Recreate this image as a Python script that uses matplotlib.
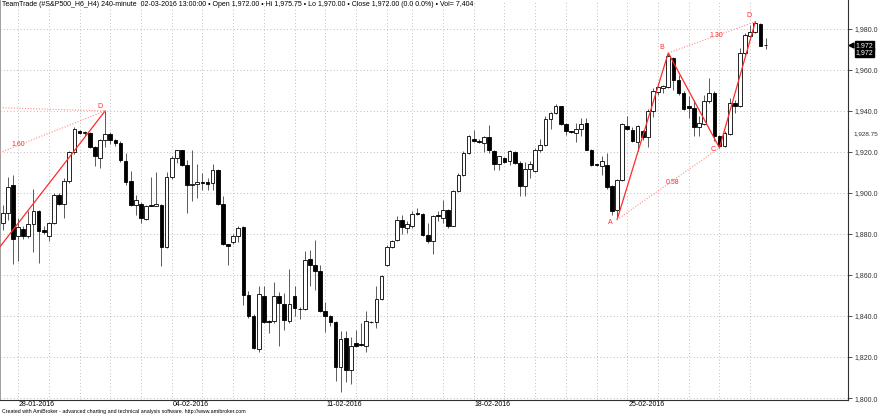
import numpy as np
import matplotlib.pyplot as plt

# 240-minute bars of #S&P500_H6_H4
opens = [1885.5, 1890, 1903.7, 1879, 1882.6, 1879, 1885, 1891, 1882, 1879,
         1885.5, 1899, 1894.5, 1906, 1920, 1930, 1929.1, 1929.3, 1922.6, 1917,
         1926, 1928.6, 1926, 1924.2, 1915.6, 1905.7, 1894.3, 1894.8, 1887.5, 1893.8,
         1893.8, 1894.3, 1873.7, 1907.8, 1917, 1920.8, 1913.8, 1904, 1904.6, 1905.4,
         1905.4, 1905, 1911.4, 1894.8, 1875.3, 1876, 1879.2, 1883.4, 1850.4, 1839.8,
         1823.9, 1850, 1837.4, 1837.4, 1849.9, 1846, 1837.4, 1850, 1843.4, 1843.4,
         1867.8, 1865, 1861.8, 1842.3, 1839.8, 1837.2, 1815.1, 1829.3, 1813.5, 1826.8,
         1826, 1825.2, 1837, 1836.9, 1848.3, 1865, 1873.7, 1876.9, 1886.7, 1882.9,
         1884, 1890.2, 1889.9, 1879.3, 1876.4, 1888.9, 1887.8, 1891.5, 1884, 1900.8,
         1909, 1919.5, 1926.3, 1925, 1924.4, 1927.2, 1920.7, 1914.3, 1917, 1915.4,
         1920, 1914.6, 1903.3, 1911.7, 1910.9, 1921.1, 1923.6, 1936.1, 1939, 1942.3,
         1933.7, 1929.8, 1929.3, 1931.2, 1934.1, 1921.1, 1913.8, 1913.3, 1913.8, 1903.6,
         1891.5, 1906.5, 1932.5, 1930.9, 1924.7, 1930.1, 1927.2, 1939.8, 1949.1, 1951.2,
         1951.7, 1965.9, 1955.3, 1948.8, 1942.6, 1941.5, 1932.2, 1933.8, 1944.7, 1948.8,
         1928, 1922.8, 1928.9, 1943.9, 1942.3, 1968.3, 1976.4, 1978.4, 1982.6, 1972]
highs = [1894, 1908, 1909, 1888, 1884, 1891, 1902, 1891.8, 1884, 1886,
         1900, 1900, 1907.5, 1920.5, 1932, 1930.5, 1930.2, 1929.8, 1923, 1926.5,
         1940, 1929.8, 1926.5, 1925.4, 1919.7, 1910.6, 1899, 1895.4, 1894.3, 1908,
         1910, 1894.8, 1910, 1917.9, 1921, 1920.8, 1916, 1921, 1914, 1909.7,
         1907.3, 1914, 1911.7, 1898.4, 1875.3, 1880.2, 1883.7, 1884, 1852, 1841,
         1854.5, 1854.5, 1838.2, 1856.4, 1851.5, 1851, 1863, 1854.8, 1844.4, 1871.5,
         1872.4, 1877.2, 1865, 1846.7, 1840.6, 1837.4, 1832.5, 1832.5, 1830, 1833.3,
         1836.6, 1842.3, 1837.6, 1854.8, 1860.2, 1874.5, 1877.2, 1888.6, 1889.4, 1886.2,
         1891, 1892.7, 1890.2, 1885.4, 1889.4, 1891, 1896.4, 1892.2, 1901.6, 1909.8,
         1920.3, 1928.1, 1930.9, 1926.5, 1927.6, 1933.3, 1921.1, 1918.2, 1917.4, 1921.1,
         1920.3, 1915.4, 1915, 1915.4, 1921.9, 1926.3, 1937.4, 1939.3, 1943.3, 1942.6,
         1934.1, 1930.3, 1934.1, 1936.6, 1936.6, 1921.5, 1914.3, 1917.9, 1919.5, 1904.1,
         1906.8, 1934.1, 1937.7, 1932.2, 1933.3, 1930.9, 1941, 1951.2, 1952.4, 1952.8,
         1968.3, 1966.3, 1957.7, 1949.6, 1947.2, 1945.5, 1937.4, 1948, 1956.1, 1949.6,
         1928.5, 1930.1, 1946.3, 1945.2, 1970.7, 1978, 1982.1, 1983.7, 1982.9, 1975.75]
lows = [1882, 1887, 1865.2, 1867, 1877.4, 1878, 1871, 1866, 1880, 1876.6,
        1884.7, 1894, 1888, 1905, 1919, 1928.8, 1927.8, 1922, 1913, 1912,
        1922.6, 1924, 1923, 1915, 1904, 1893.5, 1889.4, 1885.4, 1887, 1893.5,
        1893.5, 1864.5, 1873.2, 1906.8, 1914.6, 1913.3, 1890, 1896, 1897.6, 1901.6,
        1901.6, 1901.6, 1894.3, 1874.8, 1865, 1875, 1876, 1845.5, 1839, 1824,
        1822.3, 1836.6, 1831.7, 1836.6, 1825.5, 1833.3, 1836.6, 1840.2, 1838.5, 1842.8,
        1854.8, 1852.8, 1841.8, 1832, 1835, 1808.1, 1802.8, 1807.6, 1806.9, 1825,
        1825.5, 1822.6, 1836.4, 1834, 1847.6, 1864.5, 1873.2, 1876.4, 1880.2, 1880.5,
        1882.9, 1889.4, 1878.9, 1875.6, 1870.4, 1886.2, 1885.4, 1882.9, 1883.7, 1900.3,
        1908.5, 1919.2, 1924.7, 1924.4, 1919.8, 1919.5, 1911.4, 1911, 1914.7, 1913.8,
        1914.3, 1898.7, 1898.7, 1907.3, 1910.1, 1919.8, 1923.1, 1931.2, 1938.7, 1933.3,
        1928.5, 1929.3, 1924.7, 1927.6, 1920.8, 1913.3, 1913.3, 1909, 1902, 1889.5,
        1887.2, 1906, 1930.9, 1924.7, 1920.3, 1926, 1922.4, 1937.1, 1948, 1948.8,
        1951.2, 1950.4, 1948, 1940.3, 1936.6, 1927.6, 1927.6, 1933.3, 1943.9, 1925.2,
        1922, 1922.4, 1928.5, 1939, 1942, 1967.5, 1976.1, 1978, 1971.5, 1970]
closes = [1890, 1903, 1877.7, 1883.4, 1879, 1885, 1891, 1881.5, 1881, 1885.5,
          1899, 1894.5, 1906, 1920, 1931, 1929.2, 1929.5, 1922.6, 1918, 1926,
          1928.6, 1926, 1924.2, 1916, 1905.5, 1894.3, 1896.4, 1887.8, 1893.8, 1893.6,
          1894.8, 1873.7, 1907.8, 1917, 1920.8, 1913.8, 1904, 1904.6, 1905.4, 1905,
          1904.6, 1911.4, 1894.8, 1875.3, 1874, 1879.2, 1883, 1850.4, 1839.8, 1824.4,
          1850.9, 1837, 1837.1, 1849.9, 1846.3, 1837.9, 1846, 1843.9, 1843.2, 1867.5,
          1865, 1861.8, 1842.3, 1840.2, 1836.9, 1815.1, 1828.9, 1813.5, 1825.5, 1825.5,
          1825.9, 1837.4, 1837.2, 1848.3, 1859.7, 1873.7, 1876.4, 1887, 1883.4, 1884.9,
          1889.9, 1889.8, 1879.7, 1876.4, 1888.6, 1888.8, 1891.5, 1883.7, 1900.8, 1909,
          1919.5, 1927.6, 1925.5, 1924.9, 1927.2, 1920.8, 1914.3, 1917.9, 1915, 1920.3,
          1914.6, 1903.6, 1911.7, 1914.3, 1921.1, 1923.6, 1936.1, 1939, 1942.6, 1933.7,
          1930.1, 1929.7, 1931.2, 1933.7, 1921.1, 1913.8, 1913.7, 1915.4, 1902.9, 1891.1,
          1906.5, 1933.7, 1931.2, 1925.2, 1932.5, 1927.2, 1939.8, 1949.9, 1951.7, 1952.2,
          1966.7, 1955.3, 1948.8, 1941, 1941.5, 1932.2, 1934.1, 1944.7, 1948.8, 1927.6,
          1923.1, 1929.3, 1943.9, 1942.3, 1968.3, 1977.2, 1978.4, 1982.9, 1971.9, 1972]

# first bar of each trading day, and the dates printed on the axis
day_starts = [3, 9, 15, 21, 27, 33, 39, 45, 51, 57, 63, 69, 75, 80, 86, 92,
              98, 104, 110, 116, 122, 128, 134, 140, 146]
label_bars = [3, 33, 63, 92, 122]
date_labels = ["28-01-2016", "04-02-2016", "11-02-2016", "18-02-2016", "25-02-2016"]

price_ticks = [1800, 1820, 1840, 1860, 1880, 1900, 1920, 1940, 1960, 1980]

# AB=CD pattern points (bar index, price)
left_edge = -0.53
left_d = (20, 1940.0)
left_start = (left_edge, 1873.8)
left_dots = [(left_edge, 1941.6), (left_edge, 1919.7)]
abcd_bars = [120, 130, 140, 147]
abcd_prices = [1887.0, 1968.3, 1922.0, 1983.5]
abcd_names = ["A", "B", "C", "D"]

plt.rcParams['font.family'] = ['Liberation Sans', 'DejaVu Sans']

fig = plt.figure(figsize=(8.8, 4.15), dpi=100)
ax = fig.add_axes([0, 15.3 / 415, 848 / 880, 399.7 / 415])

o = np.array(opens)
h = np.array(highs)
l = np.array(lows)
c = np.array(closes)
x = np.arange(len(c))
up = c >= o

# grid
grid_style = dict(color='#a8a8a8', linestyle=(0, (1, 3)), linewidth=0.6, zorder=1)
for v in price_ticks:
    ax.axhline(v, **grid_style)
for d in day_starts:
    ax.axvline(d, **grid_style)

# candles
ax.vlines(x, l, h, color='#5a5a5a', linewidth=0.7, zorder=2)
body_low = np.minimum(o, c)
body_h = np.maximum(np.abs(c - o), 0.3)
ax.bar(x[up], body_h[up], bottom=body_low[up], width=0.72, color='white',
       edgecolor='black', linewidth=0.6, zorder=3)
ax.bar(x[~up], body_h[~up], bottom=body_low[~up], width=0.72, color='black',
       edgecolor='black', linewidth=0.6, zorder=3)

# pattern lines
red = '#ff2a2a'
light_red = '#ff8c8c'
ax.plot([left_start[0], left_d[0]], [left_start[1], left_d[1]], color=red, lw=0.9, zorder=4)
for p in left_dots:
    ax.plot([p[0], left_d[0]], [p[1], left_d[1]], color=light_red, lw=0.8,
            linestyle=(0, (1, 1.5)), zorder=4)
ax.text(left_d[0] - 1.1, left_d[1] + 2.3, "D", color=red, fontsize=5, ha='center', va='center')
ax.text(3.0, 1923.4, "1.60", color=red, fontsize=5, ha='center', va='center')

ax.plot(abcd_bars, abcd_prices, color=red, lw=0.9, zorder=4)
ax.plot([abcd_bars[0], abcd_bars[2]], [abcd_prices[0], abcd_prices[2]], color=light_red,
        lw=0.8, linestyle=(0, (1, 1.5)), zorder=4)
ax.plot([abcd_bars[1], abcd_bars[3]], [abcd_prices[1], abcd_prices[3]], color=light_red,
        lw=0.8, linestyle=(0, (1, 1.5)), zorder=4)
label_offsets = [(-1.3, -1.6), (-1.2, 2.4), (-1.3, -1.0), (-1.2, 2.8)]
for b, p, n, off in zip(abcd_bars, abcd_prices, abcd_names, label_offsets):
    ax.text(b + off[0], p + off[1], n, color=red, fontsize=5, ha='center', va='center')
ax.text(130.9, 1904.9, "0.58", color=red, fontsize=5, ha='center', va='center')
ax.text(139.3, 1977.0, "1.30", color=red, fontsize=5, ha='center', va='center')

ax.set_xlim(left_edge, 165.1)
ax.set_ylim(1799.2, 1994.1)

# axes look
ax.spines['top'].set_visible(False)
ax.spines['left'].set_color('#909090')
ax.spines['left'].set_linewidth(0.6)
for s in ['right', 'bottom']:
    ax.spines[s].set_color('#303030')
    ax.spines[s].set_linewidth(0.8)
ax.set_xticks([])
ax.yaxis.tick_right()
ax.set_yticks(price_ticks)
ax.set_yticklabels([f"{v:,.1f}" for v in price_ticks])
ax.tick_params(axis='y', length=3, width=0.6, labelsize=5, pad=2, colors='#303030')

for b, t in zip(label_bars, date_labels):
    ax.text(b + 0.2, -0.004, t, transform=ax.get_xaxis_transform(), fontsize=5,
            ha='left', va='top')

# last price boxes and extra level on the price axis
ax.text(1.006, 1928.75, "1,928.75", transform=ax.get_yaxis_transform(), fontsize=4.6,
        ha='left', va='center', color='#303030')
for p in [1972, 1968.3]:
    ax.text(1.009, p, "1,972", transform=ax.get_yaxis_transform(), fontsize=5,
            ha='left', va='center', color='white',
            bbox=dict(boxstyle='square,pad=0.15', fc='black', ec='black'))
ax.plot([1.004], [1972], marker='<', color='black', markersize=3.5,
        transform=ax.get_yaxis_transform(), clip_on=False)

header = ("TeamTrade (#S&P500_H6_H4) 240-minute  02-03-2016 13:00:00 \u2022 Open 1,972.00 \u2022 "
          "Hi 1,975.75 \u2022 Lo 1,970.00 \u2022 Close 1,972.00 (0.0 0.0%) \u2022 Vol= 7,404")
fig.text(2 / 880, 1 - 5 / 415, header, fontsize=5.0, va='center', ha='left')
fig.text(2 / 880, 1 - 411 / 415,
         "Created with AmiBroker - advanced charting and technical analysis software. http://www.amibroker.com",
         fontsize=3.8, va='center', ha='left')

fig.savefig('out.png', dpi=100)
